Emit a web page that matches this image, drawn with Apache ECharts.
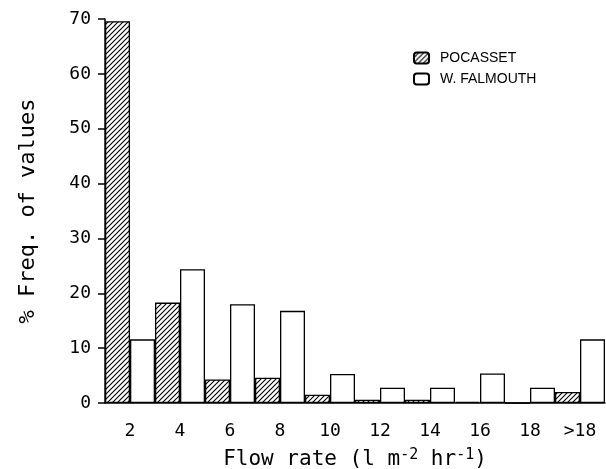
<!DOCTYPE html>
<html>
<head>
<meta charset="utf-8">
<script src="https://cdn.jsdelivr.net/npm/echarts@6/dist/echarts.min.js"></script>
<style>
  html, body { margin: 0; padding: 0; background: #fff; }
  #chart { width: 606px; height: 469px; }
</style>
</head>
<body>
<div id="chart"></div>
<script>
// flow rate classes (l m-2 hr-1)
var categories = ['2', '4', '6', '8', '10', '12', '14', '16', '18', '>18'];
// % frequency of values
var pocasset   = [69.6, 18.3, 4.3, 4.6, 1.5, 0.6, 0.6, 0.2, 0, 2.0];
var wFalmouth  = [11.6, 24.4, 18.0, 16.8, 5.3, 2.8, 2.8, 5.4, 2.8, 11.6];
var yTicks = [0, 10, 20, 30, 40, 50, 60, 70];

// hatch pattern "/" for Pocasset bars
function makeHatch() {
    var c = document.createElement('canvas');
    c.width = 5; c.height = 5;
    var ctx = c.getContext('2d');
    ctx.fillStyle = '#fff';
    ctx.fillRect(0, 0, 5, 5);
    ctx.strokeStyle = '#000';
    ctx.lineWidth = 1.1;
    ctx.beginPath();
    ctx.moveTo(-1, 6); ctx.lineTo(6, -1);
    ctx.moveTo(-1, 1); ctx.lineTo(1, -1);
    ctx.moveTo(4, 6); ctx.lineTo(6, 4);
    ctx.stroke();
    return c;
}
var hatch = { image: makeHatch(), repeat: 'repeat' };

var font = '"DejaVu Sans Mono", monospace';

var chart = echarts.init(document.getElementById('chart'));
var option = {
    animation: false,
    backgroundColor: '#fff',
    grid: { left: 105, right: 1, top: 19, bottom: 66, containLabel: false, outerBoundsMode: 'none' },
    legend: {
        left: 408, top: 46,
        orient: 'vertical',
        itemWidth: 15, itemHeight: 11, itemGap: 7,
        data: ['POCASSET', 'W. FALMOUTH'],
        textStyle: { fontFamily: 'Liberation Sans, sans-serif', fontSize: 14, color: '#000', padding: [0, 0, 0, 6] }
    },
    xAxis: {
        type: 'category',
        data: categories,
        axisLine: { lineStyle: { color: '#000', width: 1.5 } },
        axisTick: { show: false },
        axisLabel: { fontFamily: font, fontSize: 18, color: '#000', margin: 19 },
        name: 'Flow rate (l m{sup|-2} hr{sup|-1})',
        nameLocation: 'middle',
        nameGap: 45,
        nameTextStyle: {
            fontFamily: font, fontSize: 21, color: '#000',
            rich: { sup: { fontFamily: font, fontSize: 15, verticalAlign: 'top', padding: [0, 0, 9, 0] } }
        }
    },
    yAxis: {
        type: 'value',
        min: yTicks[0], max: yTicks[yTicks.length - 1], interval: 10,
        splitLine: { show: false },
        axisLine: { show: true, lineStyle: { color: '#000', width: 1.5 } },
        axisTick: { show: true, inside: false, length: 7, lineStyle: { color: '#000', width: 1.5 } },
        axisLabel: { fontFamily: font, fontSize: 18, color: '#000', margin: 14 },
        name: '% Freq. of values',
        nameLocation: 'middle',
        nameGap: 66,
        nameTextStyle: { fontFamily: font, fontSize: 22, color: '#000' }
    },
    series: [
        {
            name: 'POCASSET',
            type: 'bar',
            data: pocasset,
            barGap: '0%',
            barCategoryGap: '0%',
            itemStyle: { color: hatch, borderColor: '#000', borderWidth: 1.3 }
        },
        {
            name: 'W. FALMOUTH',
            type: 'bar',
            data: wFalmouth,
            barGap: '0%',
            barCategoryGap: '0%',
            itemStyle: { color: '#fff', borderColor: '#000', borderWidth: 1.3 }
        }
    ]
};
chart.setOption(option);
</script>
</body>
</html>
